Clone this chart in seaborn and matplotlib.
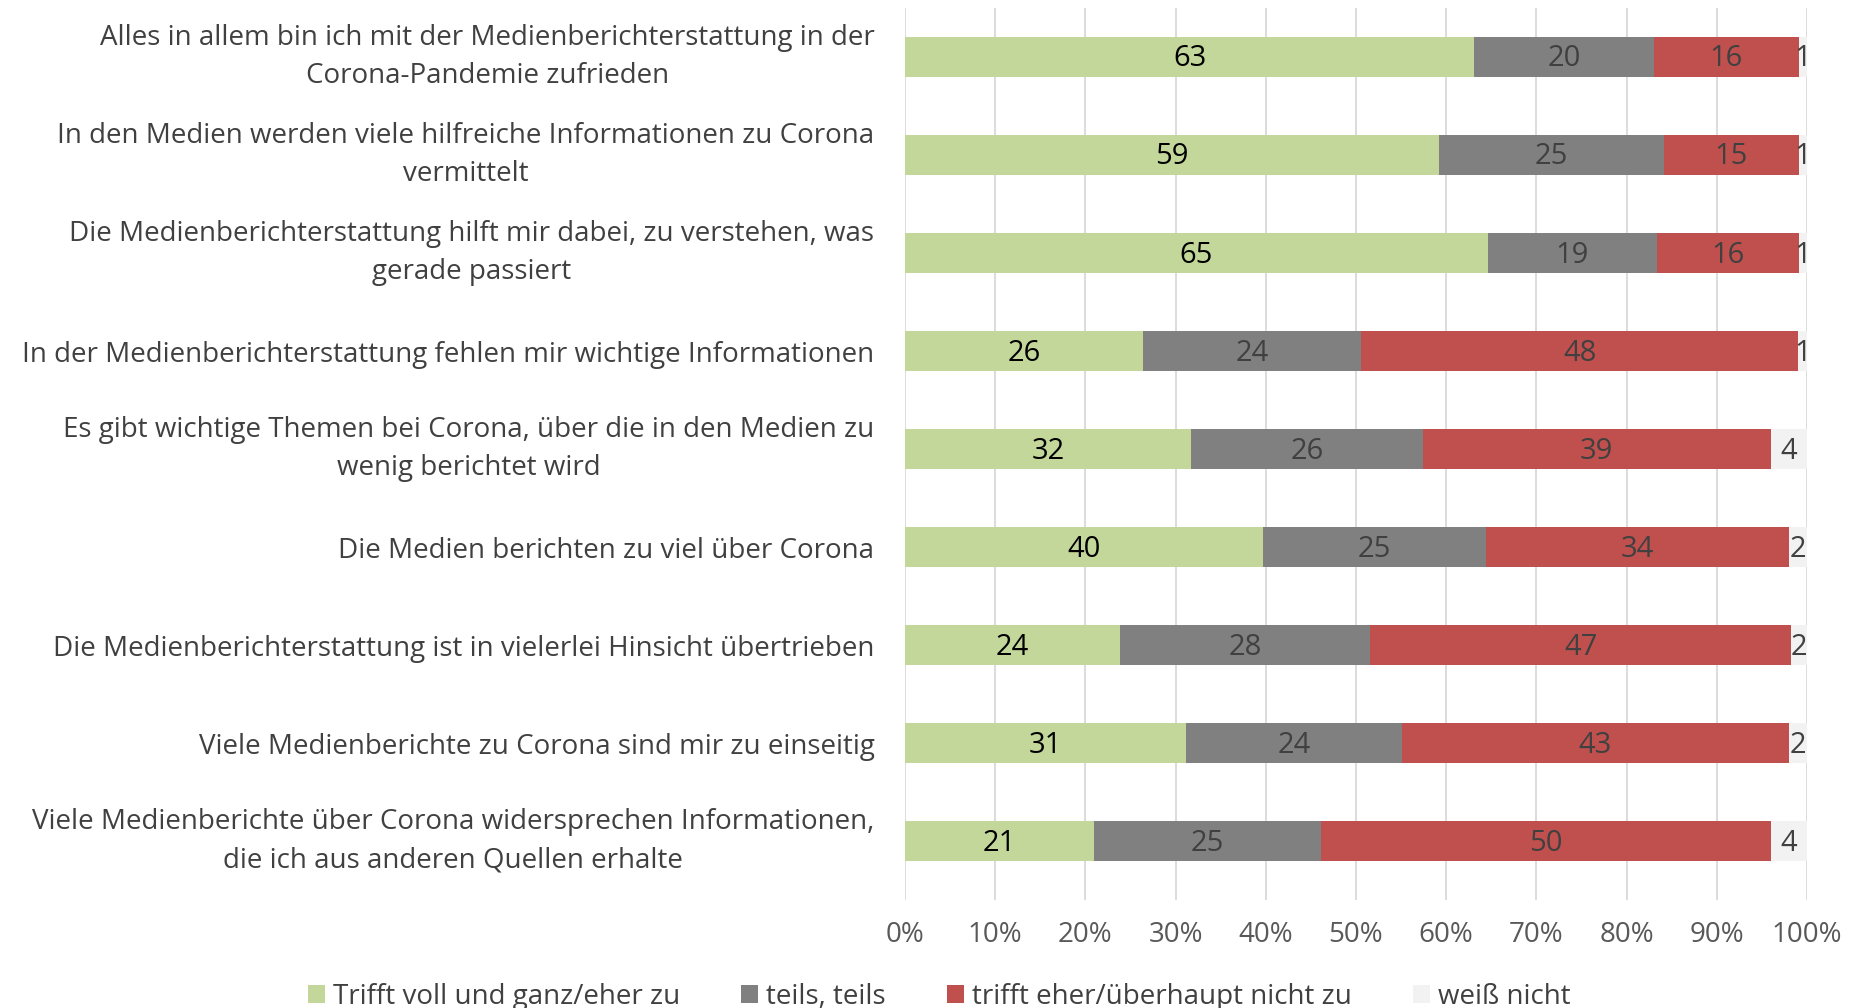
import matplotlib
matplotlib.use('Agg')
import matplotlib.pyplot as plt
import seaborn as sns
import numpy as np
import pandas as pd
from matplotlib.patches import Patch

categories = [
    'Alles in allem bin ich mit der Medienberichterstattung in der\nCorona-Pandemie zufrieden',
    'In den Medien werden viele hilfreiche Informationen zu Corona\nvermittelt',
    'Die Medienberichterstattung hilft mir dabei, zu verstehen, was\ngerade passiert',
    'In der Medienberichterstattung fehlen mir wichtige Informationen',
    'Es gibt wichtige Themen bei Corona, über die in den Medien zu\nwenig berichtet wird',
    'Die Medien berichten zu viel über Corona',
    'Die Medienberichterstattung ist in vielerlei Hinsicht übertrieben',
    'Viele Medienberichte zu Corona sind mir zu einseitig',
    'Viele Medienberichte über Corona widersprechen Informationen,\ndie ich aus anderen Quellen erhalte',
]
zustimmung = [63.1, 59.2, 64.6, 26.4, 31.7, 39.7, 23.8, 31.1, 20.9]
teils = [19.9, 24.9, 18.8, 24.2, 25.7, 24.7, 27.8, 24.0, 25.2]
ablehnung = [16.1, 15.0, 15.7, 48.4, 38.6, 33.6, 46.6, 42.9, 49.9]
weiss_nicht = [0.9, 0.9, 0.9, 1.0, 4.0, 2.0, 1.8, 2.0, 4.0]

series_names = ['Trifft voll und ganz/eher zu', 'teils, teils',
                'trifft eher/überhaupt nicht zu', 'weiß nicht']
colors = ['#c4d79b', '#808080', '#c0504d', '#f2f2f2']
label_colors = ['#000000', '#404040', '#404040', '#404040']

sns.set_style('white')
plt.rcParams['font.family'] = ['Open Sans', 'DejaVu Sans']
fs = 20

df = pd.DataFrame({'frage': categories, 's0': zustimmung, 's1': teils,
                   's2': ablehnung, 's3': weiss_nicht})
vals = df[['s0', 's1', 's2', 's3']].to_numpy()
cum = vals.cumsum(axis=1)

fig = plt.figure(figsize=(18.6, 10.08), dpi=100)
ax = fig.add_axes([905 / 1860, 1 - 900 / 1008, 902 / 1860, 892 / 1008])

# stacked look: draw cumulative totals from the back to the front
for k in range(3, -1, -1):
    sns.barplot(x=cum[:, k], y=df['frage'], orient='h', color=colors[k],
                saturation=1, width=0.41, errorbar=None, linewidth=0, ax=ax)

for i in range(len(categories)):
    start = 0
    for k in range(4):
        ax.text(start + vals[i, k] / 2, i + 0.02, f'{vals[i, k]:.0f}', ha='center', va='center',
                fontsize=21, color=label_colors[k])
        start += vals[i, k]

ax.set_xlim(0, 100)
ax.set_ylim(8.6, -0.5)
ax.set_xticks(np.arange(0, 101, 10))
ax.set_xticklabels([f'{t}%' for t in range(0, 101, 10)])
ax.xaxis.grid(True, color='#d9d9d9', linewidth=1.3)
ax.set_axisbelow(True)
for s in ax.spines.values():
    s.set_visible(False)
ax.set_xlabel('')
ax.set_ylabel('')
ax.tick_params(axis='x', length=0, pad=15, labelsize=fs, labelcolor='#595959')
ax.tick_params(axis='y', length=0, pad=22, labelsize=fs, labelcolor='#404040')
for lab in ax.get_yticklabels():
    lab.set_multialignment('center')
    lab.set_linespacing(1.5)
    if '\n' in lab.get_text():
        lab.set_va('center')

handles = [Patch(facecolor=c, edgecolor='none') for c in colors]
fig.legend(handles, series_names, loc='center', bbox_to_anchor=(0.505, 1 - 997 / 1008),
           ncol=4, frameon=False, fontsize=fs, labelcolor='#404040',
           handlelength=0.6, handleheight=0.6, handletextpad=0.3, columnspacing=2.2)

fig.savefig('out.png', dpi=100)
